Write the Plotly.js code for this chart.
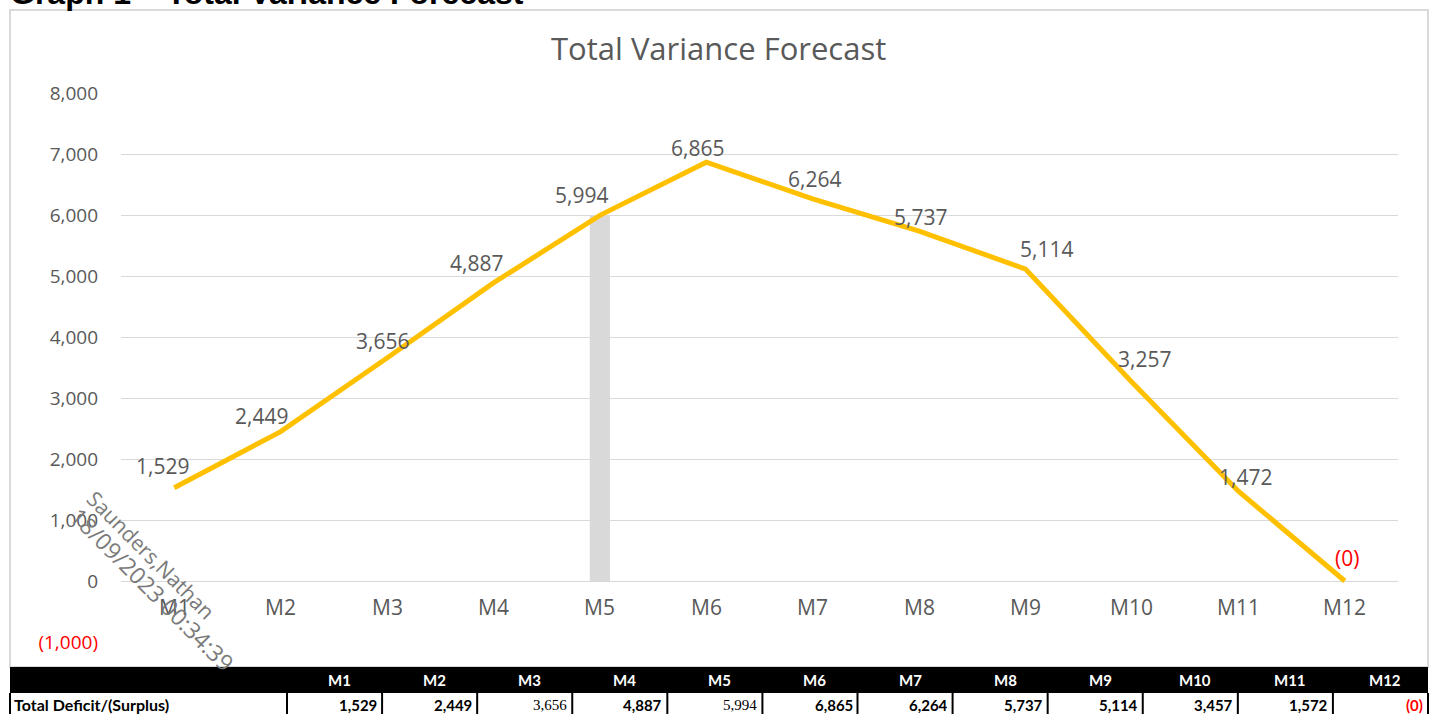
<!DOCTYPE html>
<html>
<head>
<meta charset="utf-8">
<script src="https://cdn.plot.ly/plotly-3.0.1.min.js"></script>
<style>html,body{margin:0;padding:0;background:#fff;}#chart{width:1447px;height:714px;}</style>
</head>
<body>
<div id="chart"></div>
<script>
// ---- data ----
const months = ['M1','M2','M3','M4','M5','M6','M7','M8','M9','M10','M11','M12'];
const variance = [1529, 2449, 3656, 4887, 5994, 6865, 6264, 5737, 5114, 3257, 1472, 0];
const currentMonth = 'M5';
const tableLabel = 'Total Deficit/(Surplus)';
const tableValues = [1529, 2449, 3656, 4887, 5994, 6865, 6264, 5737, 5114, 3457, 1572, 0];
const yTicks = [-1000, 0, 1000, 2000, 3000, 4000, 5000, 6000, 7000, 8000];
const chartTitle = 'Total Variance Forecast';
const pageHeading = 'Graph 1 \u2013 Total Variance Forecast';
const watermark = ['Saunders,Nathan', '18/09/2023 00:34:39'];

// ---- styling ----
const W = 1447, H = 714;
const grey = '#595959';
const font = 'Open Sans, Lato, sans-serif';
const tableFont = 'Lato, sans-serif';
const serifFont = 'Liberation Serif, serif';
const labelShift = [[-12,22],[-19,16],[-5,17],[-17,20],[-18,20],[-9,14],[2,20],[1,14],[21,20],[13,23],[7,14],[2,23]];
const serifCols = ['M3','M5'];

function fmt(v){
  const s = Math.abs(v).toLocaleString('en-US');
  return v === 0 ? '(0)' : (v < 0 ? '(' + s + ')' : s);
}
function px2x(p){ return p / W; }
function px2y(p){ return (H - p) / H; }

const curIdx = months.indexOf(currentMonth);

const traces = [
  {
    type: 'bar', x: [currentMonth], y: [variance[curIdx]], width: 0.19,
    marker: {color: '#d9d9d9'}, hoverinfo: 'skip'
  },
  {
    type: 'scatter', mode: 'lines', x: months, y: variance,
    line: {color: '#FFC000', width: 5}
  }
];

const annotations = [];
const shapes = [];

// chart border
shapes.push({
  type: 'rect', xref: 'paper', yref: 'paper', layer: 'below',
  x0: px2x(10), x1: px2x(1428), y0: px2y(667), y1: px2y(10),
  line: {color: '#d9d9d9', width: 2}, fillcolor: 'rgba(0,0,0,0)'
});

// data labels and category labels
months.forEach((m, i) => {
  annotations.push({
    x: m, y: variance[i], xref: 'x', yref: 'y', text: fmt(variance[i]),
    showarrow: false, xshift: labelShift[i][0], yshift: labelShift[i][1],
    font: {family: font, size: 21, color: variance[i] <= 0 ? '#FF0000' : grey}
  });
  annotations.push({
    x: m, y: 0, xref: 'x', yref: 'y', text: m, showarrow: false, yshift: -26,
    font: {family: font, size: 21, color: grey}
  });
});

// chart title
annotations.push({
  x: px2x(718), y: px2y(48), xref: 'paper', yref: 'paper', xanchor: 'center', yanchor: 'middle',
  text: chartTitle, showarrow: false, font: {family: font, size: 31, color: grey}
});
// page heading (partly cut off at top)
annotations.push({
  x: px2x(8), y: px2y(-7), xref: 'paper', yref: 'paper', xanchor: 'left', yanchor: 'middle',
  text: '<b>' + pageHeading + '</b>', showarrow: false,
  font: {family: 'Liberation Sans, Arial, sans-serif', size: 32, color: '#000000'}
});
// watermark
annotations.push({
  x: px2x(151), y: px2y(555), xref: 'paper', yref: 'paper', xanchor: 'center', yanchor: 'middle',
  text: watermark[0], showarrow: false, textangle: 45,
  font: {family: font, size: 21, color: '#7a7a7a'}
});
annotations.push({
  x: px2x(152), y: px2y(589), xref: 'paper', yref: 'paper', xanchor: 'center', yanchor: 'middle',
  text: watermark[1], showarrow: false, textangle: 45,
  font: {family: font, size: 23, color: '#7a7a7a'}
});

// ---- data table below the chart ----
const tblLeft = 10, tblRight = 1428, firstColRight = 287;
const hdrTop = 667, hdrBot = 693, rowBot = 714;
const colW = (tblRight - firstColRight) / months.length;
shapes.push({
  type: 'rect', xref: 'paper', yref: 'paper',
  x0: px2x(tblLeft), x1: px2x(tblRight), y0: px2y(hdrBot), y1: px2y(hdrTop),
  line: {width: 0}, fillcolor: '#000000'
});
const vlines = [tblLeft, firstColRight].concat(months.map((m, i) => firstColRight + colW * (i + 1)));
vlines.forEach(xp => {
  shapes.push({
    type: 'line', xref: 'paper', yref: 'paper',
    x0: px2x(xp), x1: px2x(xp), y0: px2y(rowBot), y1: px2y(hdrBot),
    line: {color: '#000000', width: 2}
  });
});
annotations.push({
  x: px2x(tblLeft + 2), y: px2y((hdrBot + rowBot) / 2 + 1), xref: 'paper', yref: 'paper',
  xanchor: 'left', yanchor: 'middle', showarrow: false,
  text: '<b>' + tableLabel + '</b>', font: {family: tableFont, size: 16, color: '#000000'}
});
months.forEach((m, i) => {
  const left = firstColRight + colW * i;
  annotations.push({
    x: px2x(left + colW / 2 + 5), y: px2y((hdrTop + hdrBot) / 2), xref: 'paper', yref: 'paper',
    xanchor: 'center', yanchor: 'middle', showarrow: false,
    text: '<b>' + m + '</b>', font: {family: tableFont, size: 15, color: '#ffffff'}
  });
  const serif = serifCols.includes(m);
  const t = fmt(tableValues[i]);
  annotations.push({
    x: px2x(left + colW - 3), y: px2y((hdrBot + rowBot) / 2 + 1), xref: 'paper', yref: 'paper',
    xanchor: 'right', yanchor: 'middle', showarrow: false,
    text: serif ? t : '<b>' + t + '</b>',
    font: {family: serif ? serifFont : tableFont, size: 15, color: tableValues[i] <= 0 ? '#FF0000' : '#000000'}
  });
});

const layout = {
  width: W, height: H,
  margin: {l: 0, r: 0, t: 0, b: 0},
  paper_bgcolor: '#ffffff', plot_bgcolor: '#ffffff',
  showlegend: false,
  xaxis: {
    type: 'category', categoryorder: 'array', categoryarray: months,
    domain: [px2x(121), px2x(1398)], range: [-0.5, 11.5],
    showticklabels: false, showgrid: false, zeroline: false, showline: false, ticks: ''
  },
  yaxis: {
    domain: [px2y(642), px2y(93)], range: [-1000, 8000],
    tickvals: yTicks,
    ticktext: yTicks.map(v => v < 0 ? '<span style="color:#FF0000">' + fmt(v) + '</span>' : (v === 0 ? '0' : fmt(v))),
    ticklabelstandoff: 22,
    tickfont: {family: font, size: 19, color: grey},
    showgrid: true, gridcolor: '#d9d9d9', gridwidth: 1,
    zeroline: true, zerolinecolor: '#d9d9d9', zerolinewidth: 1,
    showline: false, ticks: ''
  },
  shapes: shapes,
  annotations: annotations
};

Plotly.newPlot('chart', traces, layout, {displayModeBar: false, staticPlot: true});
</script>
</body>
</html>
